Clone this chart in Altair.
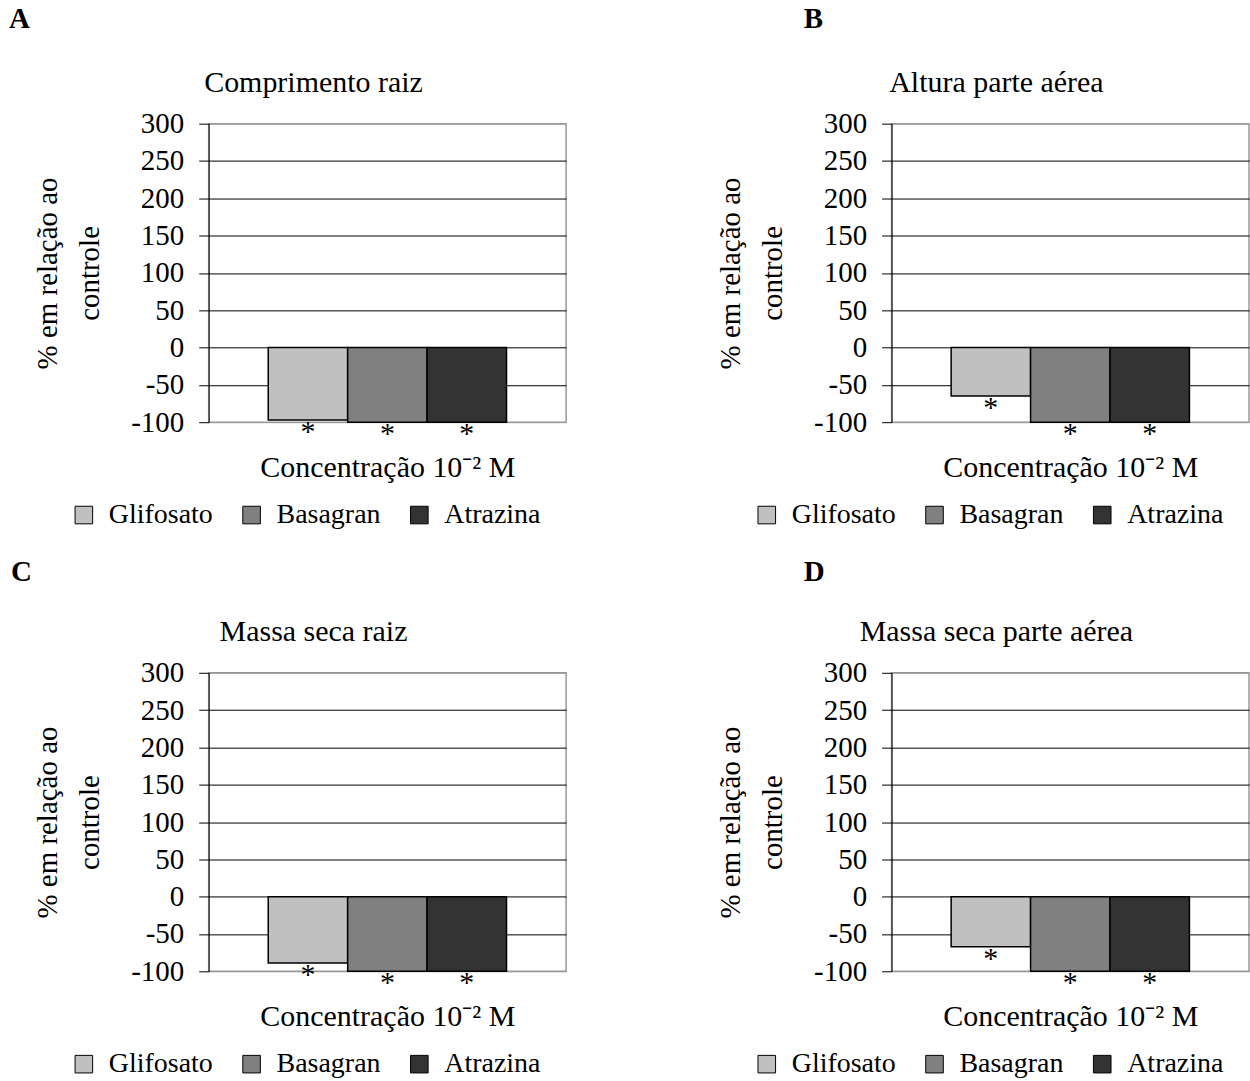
import altair as alt
import pandas as pd

# ---- data ----
herbicides = ["Glifosato", "Basagran", "Atrazina"]
colors = ["#c0c0c0", "#808080", "#333333"]
panel_letters = ["A", "B", "C", "D"]
panel_titles = ["Comprimento raiz", "Altura parte aérea", "Massa seca raiz", "Massa seca parte aérea"]
values_A = [-97, -100, -100]
values_B = [-65, -100, -100]
values_C = [-89, -100, -100]
values_D = [-67, -100, -100]
significance = ["*", "*", "*"]
y_ticks = [-100, -50, 0, 50, 100, 150, 200, 250, 300]
y_title = ["% em relação ao", "controle"]
x_title = "Concentração 10⁻² M"

FONT = "Liberation Serif"
FS = 29
W, H = 358, 299


def panel(letter, title, values, letter_x, letter_y):
    df = pd.DataFrame({"herbicida": herbicides, "valor": values, "sig": significance})
    base = alt.Chart(df)
    x = alt.X(
        "herbicida:N",
        sort=herbicides,
        scale=alt.Scale(paddingInner=0, paddingOuter=0.75),
        axis=alt.Axis(
            labels=False, ticks=False, domain=False, grid=False, title=x_title,
            titleFont=FONT, titleFontSize=30, titleFontWeight="normal",
            titleColor="black", titlePadding=30,
        ),
    )
    y = alt.Y(
        "valor:Q",
        scale=alt.Scale(domain=[-100, 300], nice=False),
        axis=alt.Axis(
            values=y_ticks, title=y_title, labelExpr="datum.value + ''",
            titleFont=FONT, titleFontSize=FS, titleFontWeight="normal",
            titleColor="black", titleLineHeight=42, titlePadding=26,
            labelFont=FONT, labelFontSize=FS, labelColor="black", labelPadding=15,
            tickSize=10, tickColor="black", tickWidth=1,
            domainColor="black", domainWidth=1,
            grid=True, gridWidth=1,
            gridColor={"condition": {"test": "datum.value === 300 || datum.value === -100",
                                     "value": "#9a9a9a"}, "value": "black"},
        ),
    )
    bars = base.mark_bar(stroke="black", strokeWidth=1.5).encode(
        x=x,
        y=y,
        fill=alt.Fill(
            "herbicida:N",
            sort=herbicides,
            scale=alt.Scale(domain=herbicides, range=colors),
            title=None,
            legend=alt.Legend(
                orient="none", legendX=-139, legendY=378, direction="horizontal",
                symbolType="square", symbolSize=310, symbolStrokeColor="black",
                symbolStrokeWidth=1, symbolOpacity=1,
                labelFont=FONT, labelFontSize=28, labelColor="black",
                labelOffset=11, columnPadding=24,
            ),
        ),
    )
    stars = base.mark_text(font=FONT, fontSize=30, baseline="alphabetic", dy=21,
                           color="black").encode(x=x, y=y, text="sig:N")
    ldf = pd.DataFrame({"t": [letter]})
    letter_mark = alt.Chart(ldf).mark_text(
        font=FONT, fontSize=FS, fontWeight="bold", align="left",
        baseline="alphabetic", color="black",
    ).encode(x=alt.value(letter_x), y=alt.value(letter_y), text="t:N")
    tdf = pd.DataFrame({"t": [title]})
    title_mark = alt.Chart(tdf).mark_text(
        font=FONT, fontSize=30, align="center", baseline="alphabetic", color="black",
    ).encode(x=alt.value(W / 2 - 74), y=alt.value(-32), text="t:N")
    return alt.layer(bars, stars, letter_mark, title_mark).properties(width=W, height=H)


pA = panel(panel_letters[0], panel_titles[0], values_A, -200, -96)
pB = panel(panel_letters[1], panel_titles[1], values_B, -88, -96)
pC = panel(panel_letters[2], panel_titles[2], values_C, -198, -92)
pD = panel(panel_letters[3], panel_titles[3], values_D, -88, -92)

chart = (
    alt.concat(pA, pB, pC, pD, columns=2, spacing={"row": 251, "column": 326}, bounds="flush")
    .resolve_scale(x="independent", y="independent", fill="independent")
    .properties(padding={"left": 8, "top": 3, "right": 0, "bottom": 0}, background="white")
    .configure_view(stroke="#9a9a9a", strokeWidth=1.5)
)

chart.save("out.html", embed_options={"renderer": "svg", "actions": False})
